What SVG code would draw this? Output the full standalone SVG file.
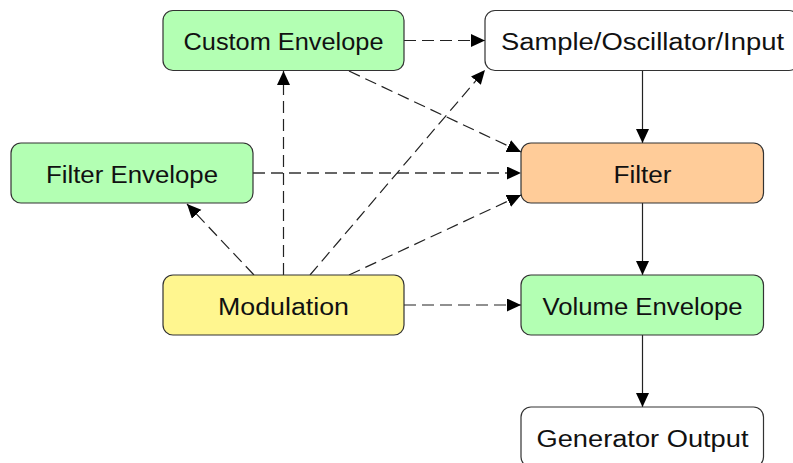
<svg xmlns="http://www.w3.org/2000/svg" width="793" height="463" viewBox="0 0 793 463">
<style>
.box{stroke:#333;stroke-width:1.2}
.green{fill:#b3ffb3}
.white{fill:#fff}
.orange{fill:#ffcc99}
.yellow{fill:#fff68f}
.lbl{font-family:"Liberation Sans",Arial,sans-serif;font-size:23px;fill:#111;text-anchor:middle}
.dash{fill:none;stroke:#222;stroke-width:1.2;stroke-dasharray:12,6}
.dashg{fill:none;stroke:#666;stroke-width:2;stroke-dasharray:12,6}
.solid{fill:none;stroke:#222;stroke-width:1.2}
</style>
<defs>
<marker id="ah" markerUnits="userSpaceOnUse" markerWidth="15" markerHeight="14" refX="14" refY="6.5" orient="auto">
<path d="M0,0 L14,6.5 L0,13 z" fill="#000"/>
</marker>
</defs>
<rect width="793" height="463" fill="#fff"/>
<g id="connectors">
<line class="dash" x1="404" y1="40.5" x2="485" y2="40.5" marker-end="url(#ah)"/>
<line class="dash" x1="349" y1="71" x2="521" y2="152" marker-end="url(#ah)"/>
<line class="dashg" x1="253" y1="173" x2="521" y2="173" marker-end="url(#ah)"/>
<line class="dash" x1="254" y1="275" x2="187" y2="204" marker-end="url(#ah)"/>
<line class="dash" x1="283.5" y1="275" x2="283.5" y2="71" marker-end="url(#ah)"/>
<line class="dash" x1="310" y1="275" x2="485" y2="70" marker-end="url(#ah)"/>
<line class="dash" x1="349" y1="275" x2="521" y2="195" marker-end="url(#ah)"/>
<line class="dash" x1="404" y1="305" x2="521" y2="305" marker-end="url(#ah)"/>
<line class="solid" x1="642.5" y1="71" x2="642.5" y2="143" marker-end="url(#ah)"/>
<line class="solid" x1="642.5" y1="203" x2="642.5" y2="275" marker-end="url(#ah)"/>
<line class="solid" x1="642.5" y1="335" x2="642.5" y2="407" marker-end="url(#ah)"/>
</g>
<g id="custom-envelope">
<rect class="box green" x="163" y="10.5" width="241" height="60" rx="10"/>
<text class="lbl" x="283.5" y="50" textLength="200" lengthAdjust="spacingAndGlyphs">Custom Envelope</text>
</g>
<g id="sample">
<rect class="box white" x="485" y="10.5" width="314" height="60" rx="10"/>
<text class="lbl" x="642.5" y="50" textLength="283" lengthAdjust="spacingAndGlyphs">Sample/Oscillator/Input</text>
</g>
<g id="filter-envelope">
<rect class="box green" x="11" y="143" width="242" height="60" rx="10"/>
<text class="lbl" x="132" y="182.5" textLength="172" lengthAdjust="spacingAndGlyphs">Filter Envelope</text>
</g>
<g id="filter">
<rect class="box orange" x="521" y="143" width="242.5" height="60" rx="10"/>
<text class="lbl" x="642.5" y="182.5" textLength="58" lengthAdjust="spacingAndGlyphs">Filter</text>
</g>
<g id="modulation">
<rect class="box yellow" x="163" y="275" width="241" height="60" rx="10"/>
<text class="lbl" x="283.5" y="314.5" textLength="131" lengthAdjust="spacingAndGlyphs">Modulation</text>
</g>
<g id="volume-envelope">
<rect class="box green" x="521" y="275" width="242.5" height="60" rx="10"/>
<text class="lbl" x="642.5" y="314.5" textLength="200" lengthAdjust="spacingAndGlyphs">Volume Envelope</text>
</g>
<g id="generator-output">
<rect class="box white" x="521" y="407" width="242.5" height="60" rx="10"/>
<text class="lbl" x="642.5" y="446.5" textLength="212" lengthAdjust="spacingAndGlyphs">Generator Output</text>
</g>
</svg>
